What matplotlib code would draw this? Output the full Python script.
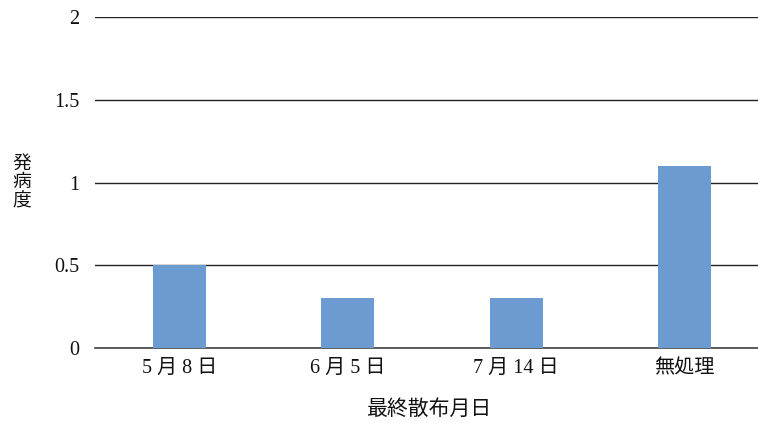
import matplotlib
matplotlib.use('Agg')
import matplotlib.pyplot as plt

# ── Data ───────────────────────────────────────────────────────────────────
categories = ['5 月 8 日', '6 月 5 日', '7 月 14 日', '無処理']
disease_index = [0.5, 0.3, 0.3, 1.1]
y_ticks = [0, 0.5, 1, 1.5, 2]
y_tick_labels = ['0', '0.5', '1', '1.5', '2']

plt.rcParams['font.family'] = ['Liberation Serif', 'Noto Sans CJK JP']

fig = plt.figure(figsize=(7.58, 4.23), dpi=100)
ax = fig.add_axes([0.1253, 0.1773, 0.889, 0.7825])

x = range(len(categories))
ax.bar(x, disease_index, width=0.315, color='#6B9BD1', zorder=3)

ax.set_xlim(-0.5, 3.5)
ax.set_ylim(0, 2)
ax.set_yticks(y_ticks)
ax.set_yticklabels(y_tick_labels)
ax.set_xticks(list(x))
ax.set_xticklabels(categories)
ax.tick_params(axis='both', length=0, labelsize=14.5, colors='#111111')
ax.tick_params(axis='y', pad=11)
ax.tick_params(axis='x', pad=8)

ax.yaxis.grid(True, color='#222222', lw=1.0, zorder=0)
for s in ['top', 'right', 'left']:
    ax.spines[s].set_visible(False)
ax.spines['bottom'].set_color('#444444')
ax.spines['bottom'].set_linewidth(1.2)

# vertical (stacked) y label
fig.text(22 / 758, 1 - 183 / 423, '発\n病\n度', ha='center', va='center',
         fontsize=13.5, linespacing=1.15, color='#111111')
fig.text(430 / 758, 1 - 410 / 423, '最終散布月日', ha='center', va='center',
         fontsize=15, color='#111111')

fig.savefig('out.png', dpi=100)
